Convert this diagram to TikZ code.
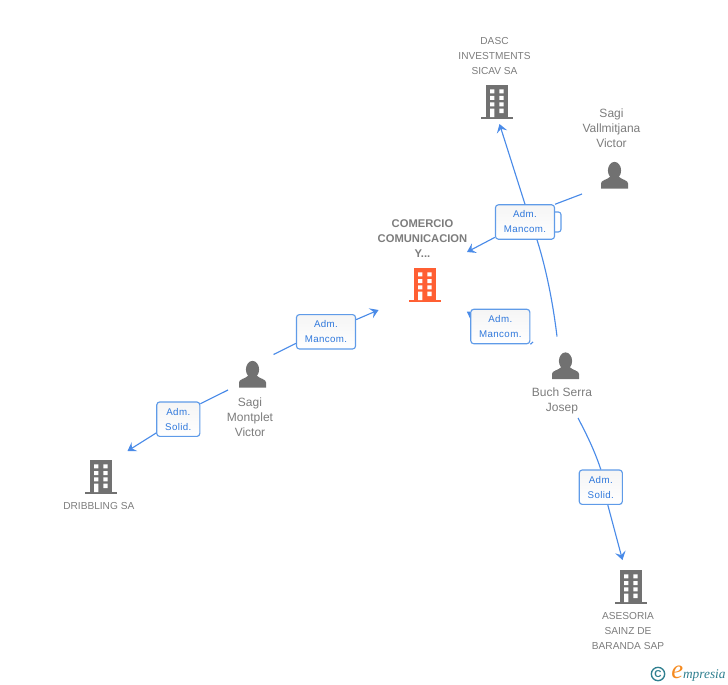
\documentclass[tikz,border=0pt]{standalone}
\usepackage{fontspec}
\setmainfont{Liberation Sans}
\newfontfamily\boxfont[LetterSpace=4]{Liberation Sans}
\newfontfamily\logofont{Liberation Serif}
\usetikzlibrary{arrows.meta}
\definecolor{linkblue}{HTML}{4A8BE8}
\definecolor{boxedge}{HTML}{5F9BE8}
\definecolor{boxtext}{HTML}{2F78DC}
\definecolor{boxtop}{HTML}{F5F5F5}
\definecolor{labelgray}{HTML}{7C7C7C}
\definecolor{icongray}{HTML}{717171}
\definecolor{mainorange}{HTML}{FF5F33}
\definecolor{logoteal}{HTML}{2F7F8F}
\definecolor{logoorange}{HTML}{F58A1F}
\tikzset{
  x=0.75pt,y=-0.75pt,
  link/.style={draw=linkblue,line width=0.85pt},
  arrowlink/.style={link,-{Stealth[length=6.2pt,width=8pt,inset=2.4pt]}},
  rolebox/.style={draw=boxedge,line width=0.85pt,rounded corners=2.2pt,top color=boxtop,bottom color=white,
    inner sep=0pt,minimum height=25.8pt,align=center,text=boxtext,
    font=\boxfont\fontsize{7.3}{11.25}\selectfont},
  widebox/.style={rolebox,minimum width=44.3pt},
  narrowbox/.style={rolebox,minimum width=32.3pt},
  complabel/.style={inner sep=0pt,align=center,text=labelgray,font=\fontsize{7.6}{11.25}\selectfont},
  perslabel/.style={inner sep=0pt,align=center,text=labelgray,font=\fontsize{9}{11.25}\selectfont},
  mainlabel/.style={inner sep=0pt,align=center,text=labelgray,font=\bfseries\fontsize{8.4}{11.25}\selectfont},
  pics/building/.style={code={
    \fill[#1] (0,0) rectangle (22.3,32);
    \fill[#1] (-5,32) rectangle (27,34);
    \fill[white] (4,4.3) rectangle (8.3,8.3) (13.3,4.3) rectangle (17.7,8.3)
      (4,11) rectangle (8.3,15) (13.3,11) rectangle (17.7,15)
      (4,17.3) rectangle (8.3,21.3) (13.3,17.3) rectangle (17.7,21.3)
      (4,23.7) rectangle (8.3,32) (13.3,23.7) rectangle (17.7,28);
  }},
  pics/person/.style={code={
    \fill[icongray] (13.5,8.5) ellipse (6.6 and 8.6);
    \fill[icongray] (0,26.5) -- (0,21.5) .. controls (0,18) and (6,18) .. (9.5,14.5)
      -- (17.5,14.5) .. controls (21,18) and (27,18) .. (27,21.5) -- (27,26.5) -- cycle;
  }},
}
\begin{document}
\begin{tikzpicture}
\useasboundingbox (0,0) rectangle (728,685);
% free ends
\coordinate (vallmEnd) at (582,194);
\coordinate (dascTip) at (499.5,124);
\coordinate (comTipA) at (467,252);
\coordinate (comTipB) at (378.5,310);
\coordinate (buchUp) at (557,336.5);
\coordinate (buchDown) at (578,418);
\coordinate (asesTip) at (622.5,560);
\coordinate (montUp) at (273.5,354.5);
\coordinate (montDown) at (228,390);
\coordinate (dribTip) at (127.5,451);
\coordinate (tickEnd) at (533,342);
% hidden box behind
\node[draw=boxedge,line width=0.85pt,rounded corners=2pt,fill=white,minimum width=15pt,minimum height=15pt,inner sep=0pt] (boxBack) at (551,222) {};
% role boxes
\node[widebox] (boxA) at (525,222) {Adm.\\Mancom.};
\node[widebox] (boxB) at (500.3,326.5) {Adm.\\Mancom.};
\node[widebox] (boxC) at (326,331.8) {Adm.\\Mancom.};
\node[narrowbox] (boxD) at (178.3,419.2) {Adm.\\Solid.};
\node[narrowbox] (boxE) at (600.8,487.2) {Adm.\\Solid.};
% connectors
\draw[arrowlink] (boxA.north) -- (dascTip);
\draw[link] (vallmEnd) -- (boxA.north east);
\draw[arrowlink] (boxA.207) -- (comTipA);
\draw[link] (buchUp) .. controls (553,303) and (546,268) .. (boxA.304);
\draw[link] (boxB.south east) -- (tickEnd);
\fill[linkblue] (boxB.north west) ++(0,3) -- ++(-3.4,0) -- ++(3.4,7) -- cycle;
\draw[link] (buchDown) .. controls (588,437) and (595,452) .. (boxE.north);
\draw[arrowlink] (boxE.south) ++(7,0) -- (asesTip);
\draw[link] (montUp) -- (boxC.201);
\draw[arrowlink] (boxC.22) -- (comTipB);
\draw[link] (montDown) -- (boxD.35);
\draw[arrowlink] (boxD.south west) ++(0,-4) -- (dribTip);
% icons
\pic at (486,85) {building=icongray};
\pic at (414,268) {building=mainorange};
\pic at (90,460) {building=icongray};
\pic at (620,570) {building=icongray};
\pic at (601,162) {person};
\pic at (552,352.5) {person};
\pic at (239,361) {person};
% labels
\node[complabel] (dascLabel) at (494.5,56) {DASC\\INVESTMENTS\\SICAV SA};
\node[perslabel] (vallmLabel) at (611.5,128) {Sagi\\Vallmitjana\\Victor};
\node[mainlabel] (comLabel) at (422.5,239) {COMERCIO\\COMUNICACION\\Y...};
\node[perslabel] (montLabel) at (250,417) {Sagi\\Montplet\\Victor};
\node[perslabel] (buchLabel) at (562,400.5) {Buch Serra\\Josep};
\node[complabel] (dribLabel) at (98.8,506) {DRIBBLING SA};
\node[complabel] (asesLabel) at (628,631) {ASESORIA\\SAINZ DE\\BARANDA SAP};
% logo
\node[circle,draw=logoteal,line width=1pt,minimum size=10pt,inner sep=0pt,text=logoteal,font=\bfseries\fontsize{7.5}{8}\selectfont] (copyMark) at (658,674) {C};
\node[anchor=base west,inner sep=0pt,font=\logofont\itshape\fontsize{10}{12}\selectfont,text=logoteal] (logoText) at (671,678.5) {\textcolor{logoorange}{\fontsize{20}{20}\selectfont e}mpresia};
\end{tikzpicture}
\end{document}
